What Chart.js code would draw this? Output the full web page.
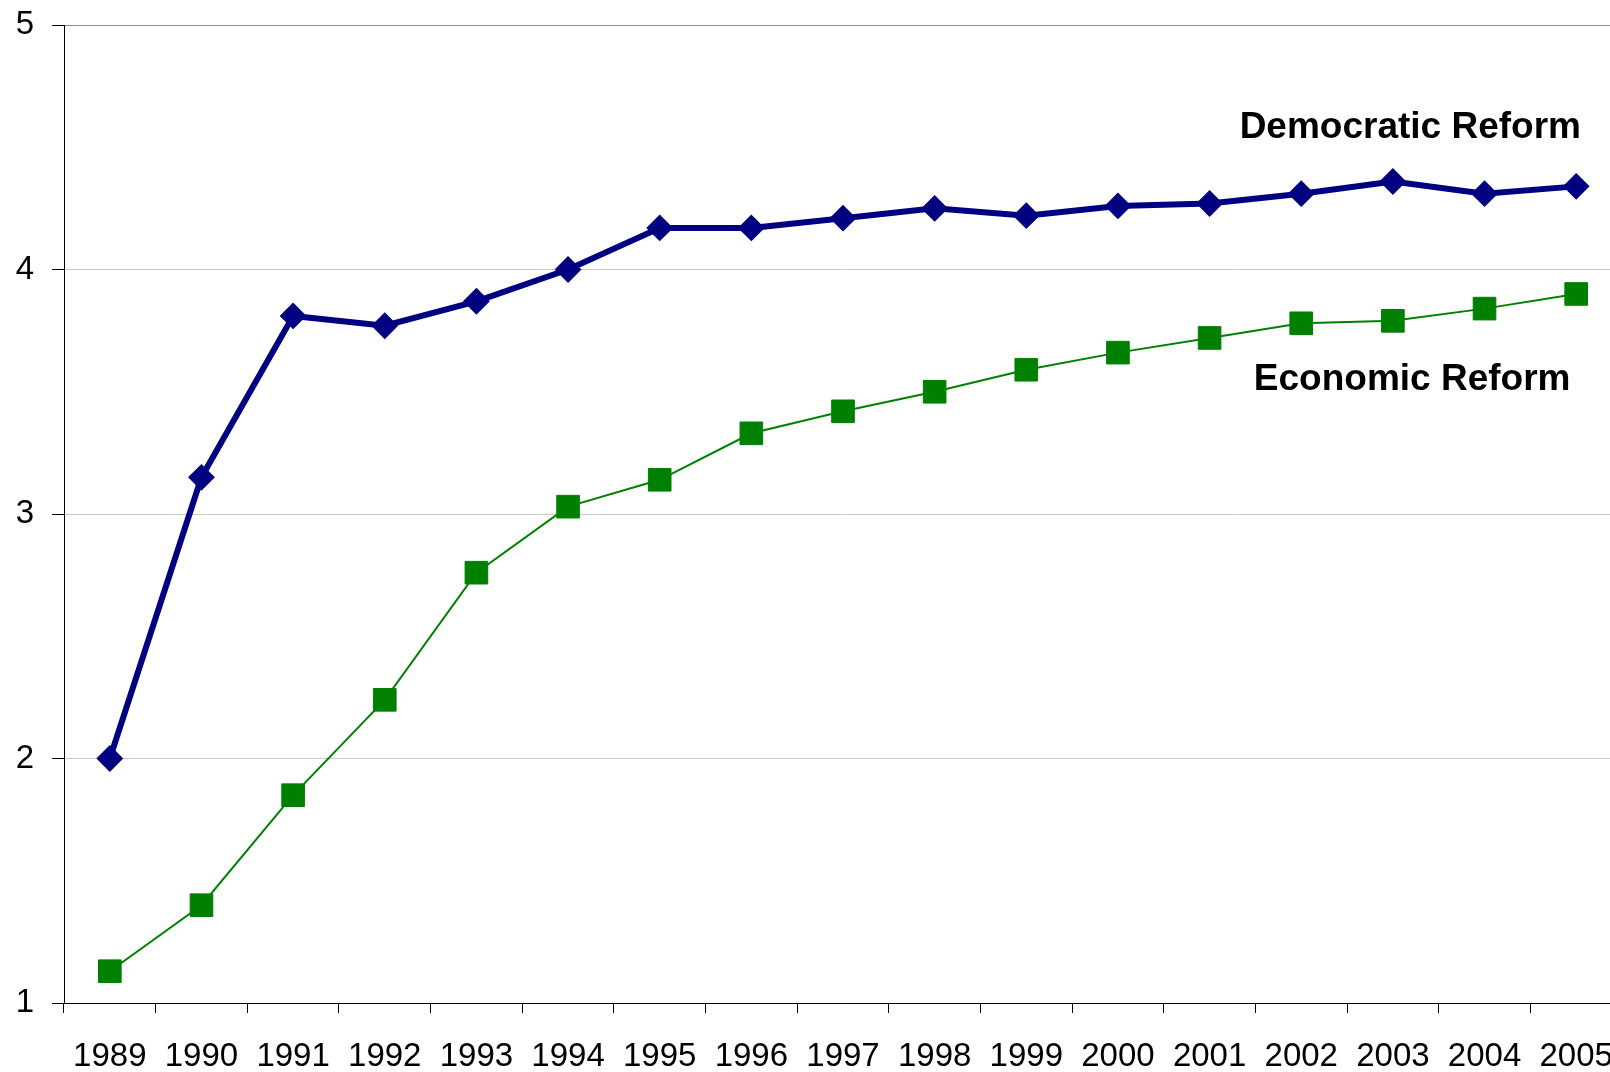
<!DOCTYPE html>
<html>
<head>
<meta charset="utf-8">
<script src="https://cdn.jsdelivr.net/npm/chart.js@4"></script>
<style>
    html, body { margin: 0; padding: 0; overflow: hidden; background: #fff; }
    #chartId { position: absolute; left: 0; top: 0; }
</style>
</head>
<body>
<canvas id="chartId" width="1622" height="1072"></canvas>
<script>
// Chart data
const years = ['1989', '1990', '1991', '1992', '1993', '1994', '1995', '1996', '1997',
    '1998', '1999', '2000', '2001', '2002', '2003', '2004', '2005'];
const democraticReform = [2.00, 3.15, 3.81, 3.77, 3.87, 4.00, 4.17, 4.17, 4.21,
    4.25, 4.22, 4.26, 4.27, 4.31, 4.36, 4.31, 4.34];
const economicReform = [1.13, 1.40, 1.85, 2.24, 2.76, 3.03, 3.14, 3.33, 3.42,
    3.50, 3.59, 3.66, 3.72, 3.78, 3.79, 3.84, 3.90];
const yTicks = [1, 2, 3, 4, 5];

const fontFamily = '"Liberation Sans", Arial, sans-serif';

// Scales normally reserve room for half of their edge labels; the layout here is fixed
function noEdgePadding(scale) {
    scale.paddingTop = 0;
    scale.paddingBottom = 0;
    scale.paddingLeft = 0;
    scale.paddingRight = 0;
}

// Draws the series names next to the lines
const seriesLabels = {
    id: 'seriesLabels',
    afterDatasetsDraw(chart) {
        const ctx = chart.ctx;
        const x = chart.scales.x;
        const y = chart.scales.y;
        ctx.save();
        ctx.font = 'bold 37px ' + fontFamily;
        ctx.fillStyle = '#000';
        ctx.textAlign = 'center';
        ctx.textBaseline = 'middle';
        ctx.fillText('Democratic Reform', x.getPixelForValue(14.19), y.getPixelForValue(4.58));
        ctx.fillText('Economic Reform', x.getPixelForValue(14.21), y.getPixelForValue(3.55));
        ctx.restore();
    }
};

const canvasElement = document.getElementById('chartId').getContext('2d');

const chart = new Chart(canvasElement, {
    type: 'line',
    data: {
        labels: years,
        datasets: [
            {
                label: 'Democratic Reform',
                data: democraticReform,
                borderColor: '#000080',
                backgroundColor: '#000080',
                borderWidth: 6,
                pointStyle: 'rectRot',
                pointRadius: 12,
                pointBorderWidth: 2,
                tension: 0
            },
            {
                label: 'Economic Reform',
                data: economicReform,
                borderColor: '#008000',
                backgroundColor: '#008000',
                borderWidth: 2,
                pointStyle: 'rect',
                pointRadius: 16,
                pointBorderWidth: 1,
                tension: 0
            }
        ]
    },
    options: {
        responsive: false,
        devicePixelRatio: 1,
        animation: false,
        layout: { autoPadding: false, padding: { top: 25, left: 0, right: 0, bottom: 0 } },
        plugins: {
            legend: { display: false },
            tooltip: { enabled: false }
        },
        scales: {
            x: {
                offset: true,
                afterFit: (scale) => { scale.height = 69; noEdgePadding(scale); },
                grid: {
                    offset: true,
                    drawOnChartArea: false,
                    drawTicks: true,
                    tickLength: 10,
                    tickColor: '#000'
                },
                border: { display: true, color: '#000', width: 1 },
                ticks: {
                    color: '#000',
                    padding: 24,
                    maxRotation: 0,
                    autoSkip: false,
                    font: { family: fontFamily, size: 33 }
                }
            },
            y: {
                min: 1,
                max: 5,
                afterFit: (scale) => { scale.width = 64; noEdgePadding(scale); },
                afterBuildTicks: (scale) => { scale.ticks = yTicks.map(v => ({ value: v })); },
                grid: {
                    color: (c) => (c.tick && c.tick.value === 5) ? '#8c8c8c' : '#c8c8c8',
                    lineWidth: 1,
                    drawTicks: true,
                    tickLength: 12,
                    tickColor: '#000'
                },
                border: { display: true, color: '#000', width: 1 },
                ticks: {
                    color: '#000',
                    padding: 18,
                    font: { family: fontFamily, size: 33 }
                }
            }
        }
    },
    plugins: [seriesLabels]
});
</script>
</body>
</html>
